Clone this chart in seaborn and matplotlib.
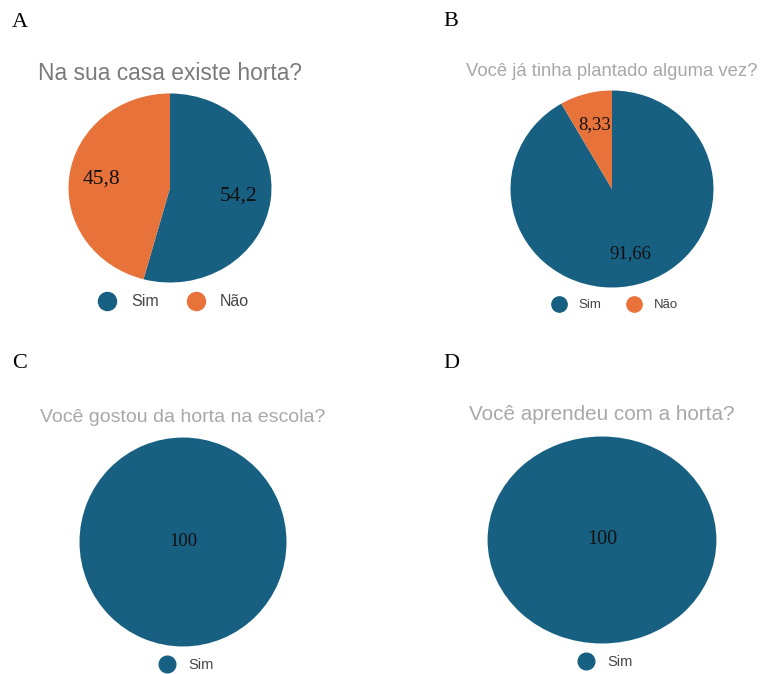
import numpy as np
import matplotlib
matplotlib.use("Agg")
import matplotlib.pyplot as plt
from matplotlib.lines import Line2D
import seaborn as sns

# ----------------------------
# Dados (percentagens por pergunta)
titulos = [
    "Na sua casa existe horta?",
    "Você já tinha plantado alguma vez?",
    "Você gostou da horta na escola?",
    "Você aprendeu com a horta?",
]
letras = ["A", "B", "C", "D"]
categorias_a = ["Sim", "Não"]
valores_a = [54.2, 45.8]
rotulos_a = ["54,2", "45,8"]
categorias_b = ["Sim", "Não"]
valores_b = [91.66, 8.33]
rotulos_b = ["91,66", "8,33"]
categorias_c = ["Sim"]
valores_c = [100]
rotulos_c = ["100"]
categorias_d = ["Sim"]
valores_d = [100]
rotulos_d = ["100"]

sns.set_theme(style="white")
cores = sns.color_palette(["#176082", "#e8733a"])

W, H = 761, 674
fig = plt.figure(figsize=(W / 100, H / 100), dpi=100)
fig.patch.set_facecolor("white")


def caixa(cx, cy, rx, ry):
    # posição do eixo em fração da figura, a partir de pixels
    return [(cx - rx) / W, 1 - (cy + ry) / H, 2 * rx / W, 2 * ry / H]


# layout de cada painel: centro/raios da pizza, título, legenda, tamanhos
paineis = [
    dict(cat=categorias_a, val=valores_a, rot=rotulos_a, geo=(170, 188, 102, 95),
         ty=73, tsize=16.4, tcor="#7a7a7a", ly=302, lsize=11.5, msize=13, lcol=1.3,
         rsize=15.5, letra=(12, 27)),
    dict(cat=categorias_b, val=valores_b, rot=rotulos_b, geo=(612, 189, 102, 99),
         ty=72, tsize=13.3, tcor="#a8a8a8", ly=305, lsize=9.5, msize=11, lcol=1.5,
         rsize=13.5, letra=(443, 26)),
    dict(cat=categorias_c, val=valores_c, rot=rotulos_c, geo=(183, 542, 104, 105),
         ty=417, tsize=14, tcor="#a8a8a8", ly=665, lsize=10.5, msize=12, lcol=2.0,
         rsize=13.5, letra=(12, 368)),
    dict(cat=categorias_d, val=valores_d, rot=rotulos_d, geo=(602, 540, 115, 104),
         ty=415, tsize=14.9, tcor="#a8a8a8", ly=662, lsize=10.5, msize=12, lcol=2.0,
         rsize=14.5, letra=(443, 368)),
]

for i, p in enumerate(paineis):
    cx, cy, rx, ry = p["geo"]
    ax = fig.add_axes(caixa(cx, cy, rx, ry))
    wedges, _ = ax.pie(p["val"], colors=cores[:len(p["val"])], startangle=90,
                       counterclock=False, radius=1,
                       wedgeprops=dict(linewidth=0))
    ax.set_aspect("auto")
    ax.set_xlim(-1.005, 1.005)
    ax.set_ylim(-1.005, 1.005)
    ax.axis("off")

    # rótulos de valor dentro das fatias
    for w, txt in zip(wedges, p["rot"]):
        ang = np.deg2rad((w.theta1 + w.theta2) / 2)
        r = 0 if len(p["val"]) == 1 else 0.68
        ax.text(r * np.cos(ang), r * np.sin(ang), txt, ha="center", va="center",
                fontsize=p["rsize"], family="Liberation Serif", color="#111111")

    # título
    fig.text(cx / W, 1 - p["ty"] / H, titulos[i], ha="center", va="center",
             fontsize=p["tsize"], color=p["tcor"], family="Liberation Sans")

    # letra do painel
    lx, ly = p["letra"]
    fig.text(lx / W, 1 - ly / H, letras[i], ha="left", va="baseline",
             fontsize=16, family="Liberation Serif", color="black")

    # legenda
    handles = [Line2D([], [], marker="o", linestyle="", markersize=p["msize"],
                      markerfacecolor=cores[j], markeredgecolor=cores[j])
               for j in range(len(p["cat"]))]
    leg = fig.legend(handles, p["cat"], loc="center", ncol=len(p["cat"]),
                     bbox_to_anchor=(cx / W, 1 - p["ly"] / H), frameon=False,
                     handletextpad=0.5, columnspacing=p["lcol"],
                     prop=dict(family="Liberation Sans", size=p["lsize"]))
    for t in leg.get_texts():
        t.set_color("#444444")

fig.savefig("out.png", dpi=100, facecolor="white")
